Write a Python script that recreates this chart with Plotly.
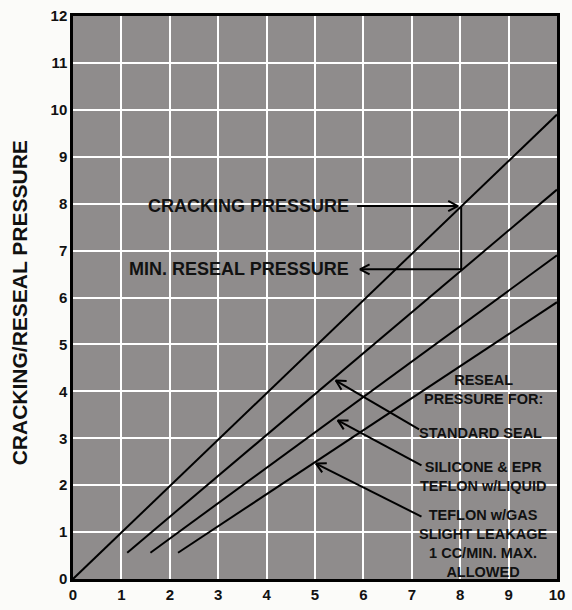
import math
import plotly.graph_objects as go

# ---- data ----
crack_x = [0, 10]
crack_y = [0, 9.9]
std_x = [1.12, 10]
std_y = [0.56, 8.3]
sil_x = [1.6, 10]
sil_y = [0.56, 6.9]
tef_x = [2.17, 10]
tef_y = [0.56, 5.9]

x_ticks = list(range(0, 11))
y_ticks = list(range(0, 13))

# arrows: (tail, tip)
crack_arrow = ((5.87, 7.95), (7.95, 7.95))
bracket_path_x = [8.02, 8.02, 5.93]
bracket_path_y = [7.95, 6.6, 6.6]
reseal_arrows = [
    ((7.15, 3.19), (5.43, 4.23)),
    ((7.2, 2.42), (5.47, 3.38)),
    ((7.2, 1.33), (5.02, 2.46)),
]

labels_main = [
    ("CRACKING PRESSURE", 5.75, 7.95),
    ("MIN. RESEAL PRESSURE", 5.75, 6.6),
]
labels_right = [
    ("RESEAL<br>PRESSURE FOR:", 8.48, 4.04),
    ("STANDARD SEAL", 8.41, 3.12),
    ("SILICONE &amp; EPR<br>TEFLON w/LIQUID", 8.48, 2.19),
    ("TEFLON w/GAS<br>SLIGHT LEAKAGE<br>1 CC/MIN. MAX.<br>ALLOWED", 8.48, 0.75),
]

W, H = 572, 610
L, R, T, B = 73, 7, 10, 24
SX = (W - L - R) / 10.0
SY = (H - T - B) / 12.0

fig = go.Figure()
line_style = dict(color="black", width=2)
for xs, ys in [(crack_x, crack_y), (std_x, std_y), (sil_x, sil_y), (tef_x, tef_y)]:
    fig.add_trace(go.Scatter(x=xs, y=ys, mode="lines", line=line_style,
                             hoverinfo="skip", showlegend=False))


def head(tail, tip, length=11, ang=28):
    dx = (tip[0] - tail[0]) * SX
    dy = (tip[1] - tail[1]) * SY
    n = math.hypot(dx, dy)
    ux, uy = dx / n, dy / n
    xs, ys = [], []
    for s in (1, -1):
        a = math.radians(ang) * s
        rx = ux * math.cos(a) - uy * math.sin(a)
        ry = ux * math.sin(a) + uy * math.cos(a)
        xs.append(tip[0] - rx * length / SX)
        ys.append(tip[1] - ry * length / SY)
    return [xs[0], tip[0], xs[1], None], [ys[0], tip[1], ys[1], None]


ax, ay = [], []
all_arrows = [crack_arrow] + reseal_arrows
for tail, tip in all_arrows:
    ax += [tail[0], tip[0], None]
    ay += [tail[1], tip[1], None]
    hx, hy = head(tail, tip)
    ax += hx
    ay += hy
ax += bracket_path_x + [None]
ay += bracket_path_y + [None]
hx, hy = head((bracket_path_x[1], bracket_path_y[1]), (bracket_path_x[2], bracket_path_y[2]))
ax += hx
ay += hy
fig.add_trace(go.Scatter(x=ax, y=ay, mode="lines", line=line_style,
                         hoverinfo="skip", showlegend=False))

for txt, x, y in labels_main:
    fig.add_annotation(x=x, y=y, text="<b>" + txt + "</b>", showarrow=False,
                       xanchor="right", yanchor="middle",
                       font=dict(family="Arial", size=18, color="#111"))
for txt, x, y in labels_right:
    fig.add_annotation(x=x, y=y, text="<b>" + txt + "</b>", showarrow=False,
                       xanchor="center", yanchor="middle", align="center",
                       font=dict(family="Arial", size=14.5, color="#111"))

fig.add_annotation(xref="paper", yref="paper", x=-0.11, y=0.491,
                   text="<b>CRACKING/RESEAL PRESSURE</b>", showarrow=False,
                   textangle=-90, xanchor="center", yanchor="middle",
                   font=dict(family="Arial", size=21, color="#111"))

axis_common = dict(showgrid=True, gridcolor="white", gridwidth=2,
                   showline=True, linecolor="black", linewidth=2.5, mirror=True,
                   zeroline=False, ticks="", ticklabeloverflow="allow",
                   tickfont=dict(family="Arial", size=15, color="#111", weight="bold"))
fig.update_xaxes(range=[0, 10], tickvals=x_ticks, ticktext=[str(v) for v in x_ticks], **axis_common)
fig.update_yaxes(range=[0, 12], tickvals=y_ticks, ticktext=[str(v) for v in y_ticks], **axis_common)

fig.update_layout(width=W, height=H, margin=dict(l=L, r=R, t=T, b=B),
                  plot_bgcolor="#8f8c8c", paper_bgcolor="#fbfbf9",
                  showlegend=False)

pin_script = (
    "document.body.style.margin='0px';"
    "document.body.style.overflow='hidden';"
    "var g=document.getElementById('{plot_id}');"
    "g.style.position='fixed';g.style.left='0px';g.style.top='0px';"
)
fig.write_html("out.html", config={"displayModeBar": False}, post_script=pin_script)
